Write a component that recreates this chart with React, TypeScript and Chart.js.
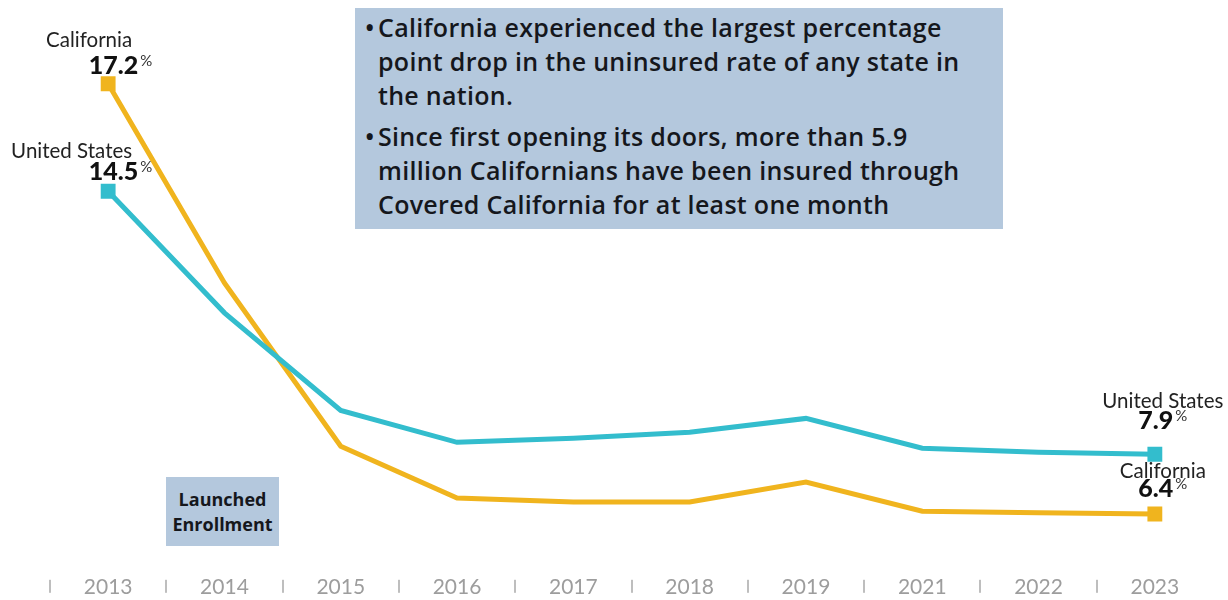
import React, { useEffect, useRef } from "react";
import { Chart, registerables } from "chart.js";

Chart.register(...registerables);

const years = ["2013", "2014", "2015", "2016", "2017", "2018", "2019", "2021", "2022", "2023"];
const californiaRates = [17.2, 12.2, 8.1, 6.8, 6.7, 6.7, 7.2, 6.47, 6.43, 6.4];
const unitedStatesRates = [14.5, 11.45, 9.0, 8.2, 8.3, 8.45, 8.8, 8.05, 7.95, 7.9];
const californiaName = "California";
const unitedStatesName = "United States";
const californiaColor = "#F0B41E";
const unitedStatesColor = "#33BDCD";
const calloutBullets = [
  ["California experienced the largest percentage", "point drop in the uninsured rate of any state in", "the nation."],
  ["Since first opening its doors, more than 5.9", "million Californians have been insured through", "Covered California for at least one month"],
];
const enrollmentNote = ["Launched", "Enrollment"];

const LABEL_FONT = "Lato, 'Open Sans', sans-serif";
const BOX_FONT = "'Open Sans', 'Noto Sans', sans-serif";

// label offsets (name baseline, value baseline) relative to the end points, per series
const LABEL_OFFSETS: Record<string, { left: [number, number]; right: [number, number] }> = {
  [unitedStatesName]: { left: [-33, -11], right: [-46, -25] },
  [californiaName]: { left: [-37, -10], right: [-36, -17] },
};

function drawValue(ctx: CanvasRenderingContext2D, value: number, x: number, y: number, align: "right" | "center") {
  const num = value.toFixed(1);
  ctx.font = `900 25px ${LABEL_FONT}`;
  const nw = ctx.measureText(num).width;
  ctx.font = `400 15px ${LABEL_FONT}`;
  const pw = ctx.measureText("%").width;
  const total = nw + 2 + pw;
  const startX = align === "right" ? x - total : x - total / 2;
  ctx.textAlign = "left";
  ctx.textBaseline = "alphabetic";
  ctx.fillStyle = "#111111";
  ctx.font = `900 25px ${LABEL_FONT}`;
  ctx.fillText(num, startX, y);
  ctx.font = `400 15px ${LABEL_FONT}`;
  ctx.fillStyle = "#333333";
  ctx.fillText("%", startX + nw + 2, y - 8);
}

const endLabelsPlugin = {
  id: "endLabels",
  afterDatasetsDraw(chart: any) {
    const ctx: CanvasRenderingContext2D = chart.ctx;
    ctx.save();
    chart.data.datasets.forEach((ds: any, di: number) => {
      const meta = chart.getDatasetMeta(di);
      const pts = meta.data;
      const first = pts[0];
      const last = pts[pts.length - 1];
      const v0 = ds.data[0];
      const v1 = ds.data[ds.data.length - 1];
      const off = LABEL_OFFSETS[ds.label];
      ctx.font = `400 20.5px ${LABEL_FONT}`;
      ctx.fillStyle = "#222222";
      ctx.textAlign = "right";
      ctx.textBaseline = "alphabetic";
      ctx.fillText(ds.label, first.x + 24, first.y + off.left[0]);
      drawValue(ctx, v0, first.x + 44, first.y + off.left[1], "right");
      ctx.font = `400 20.5px ${LABEL_FONT}`;
      ctx.fillStyle = "#222222";
      ctx.textAlign = "center";
      ctx.fillText(ds.label, last.x + 8, last.y + off.right[0]);
      drawValue(ctx, v1, last.x + 8, last.y + off.right[1], "center");
    });
    ctx.restore();
  },
};

const separatorsPlugin = {
  id: "separators",
  afterDraw(chart: any) {
    const xs = chart.scales.x;
    const ctx: CanvasRenderingContext2D = chart.ctx;
    const n = xs.ticks.length;
    const step = xs.getPixelForTick(1) - xs.getPixelForTick(0);
    ctx.save();
    ctx.fillStyle = "#a9a9a9";
    for (let i = 0; i < n; i++) {
      const x = xs.getPixelForTick(i) - step / 2;
      ctx.fillRect(Math.round(x) - 0.75, xs.top + 10, 1.5, 13);
    }
    ctx.restore();
  },
};

export default function App() {
  const canvasRef = useRef<HTMLCanvasElement | null>(null);

  useEffect(() => {
    if (!canvasRef.current) return;
    const endRadius = (len: number) => years.map((_, i) => (i === 0 || i === len - 1 ? 10.5 : 0));
    const chart = new Chart(canvasRef.current, {
      type: "line",
      data: {
        labels: years,
        datasets: [
          {
            label: unitedStatesName,
            data: unitedStatesRates,
            borderColor: unitedStatesColor,
            backgroundColor: unitedStatesColor,
            borderWidth: 5,
            pointStyle: "rect",
            pointRadius: endRadius(years.length),
            pointBorderWidth: 0,
            pointBackgroundColor: unitedStatesColor,
            tension: 0,
          },
          {
            label: californiaName,
            data: californiaRates,
            borderColor: californiaColor,
            backgroundColor: californiaColor,
            borderWidth: 5,
            pointStyle: "rect",
            pointRadius: endRadius(years.length),
            pointBorderWidth: 0,
            pointBackgroundColor: californiaColor,
            tension: 0,
          },
        ],
      },
      options: {
        animation: false,
        responsive: true,
        maintainAspectRatio: false,
        layout: { padding: { top: 12, left: 50, right: 15, bottom: 3 } },
        plugins: { legend: { display: false }, tooltip: { enabled: false } },
        scales: {
          x: {
            offset: true,
            grid: { display: false },
            border: { display: false },
            ticks: {
              color: "#9d9d9d",
              font: { family: "Lato", size: 21 },
              padding: -3,
              autoSkip: false,
              maxRotation: 0,
            },
          },
          y: { display: false, min: 5, max: 19 },
        },
      },
      plugins: [endLabelsPlugin, separatorsPlugin],
    });
    return () => chart.destroy();
  }, []);

  return (
    <div style={{ position: "absolute", left: 0, top: 0, width: 1228, height: 600, background: "#ffffff", overflow: "hidden" }}>
      <canvas ref={canvasRef} />
      <div
        style={{
          position: "absolute",
          left: 355,
          top: 8,
          width: 648,
          height: 221,
          boxSizing: "border-box",
          background: "#B4C8DD",
          padding: "2px 10px 0 23px",
          fontFamily: BOX_FONT,
          fontWeight: 600,
          fontSize: 25,
          letterSpacing: 0.3,
          lineHeight: "34px",
          color: "#15171c",
        }}
      >
        {calloutBullets.map((lines, bi) => (
          <div key={bi} style={{ position: "relative", marginBottom: 7 }}>
            <span style={{ position: "absolute", left: -13, top: 0 }}>•</span>
            {lines.map((l, li) => (
              <div key={li} style={{ whiteSpace: "nowrap" }}>{l}</div>
            ))}
          </div>
        ))}
      </div>
      <div
        style={{
          position: "absolute",
          left: 166,
          top: 477,
          width: 113,
          height: 69,
          background: "#B4C8DD",
          display: "flex",
          flexDirection: "column",
          justifyContent: "center",
          alignItems: "center",
          fontFamily: BOX_FONT,
          fontWeight: 700,
          fontSize: 18,
          lineHeight: "25px",
          color: "#15171c",
        }}
      >
        {enrollmentNote.map((t, i) => (
          <div key={i}>{t}</div>
        ))}
      </div>
    </div>
  );
}
